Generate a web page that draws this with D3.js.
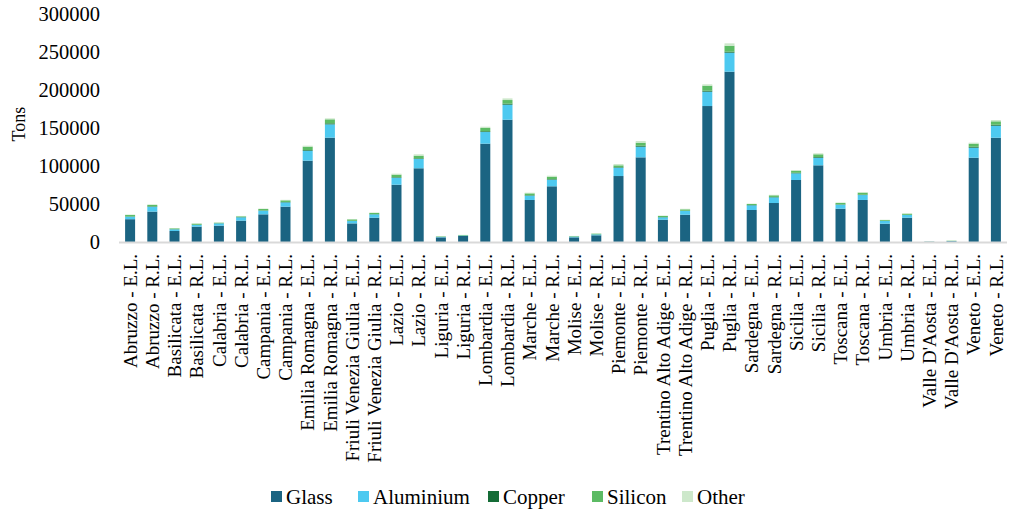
<!DOCTYPE html>
<html>
<head>
<meta charset="utf-8">
<script src="https://cdn.jsdelivr.net/npm/d3@7"></script>
<style>
  html, body { margin: 0; padding: 0; background: #fff; }
  svg { display: block; }
  text { font-family: "Liberation Serif", "Times New Roman", serif; fill: #000; }
</style>
</head>
<body>
<svg id="chart" width="1013" height="513"></svg>
<script>
// Regions and plant type (E.L. / R.L.)
const categories = [
  "Abruzzo - E.L.", "Abruzzo - R.L.", "Basilicata - E.L.", "Basilicata - R.L.",
  "Calabria - E.L.", "Calabria - R.L.", "Campania - E.L.", "Campania - R.L.",
  "Emilia Romagna - E.L.", "Emilia Romagna - R.L.", "Friuli Venezia Giulia - E.L.", "Friuli Venezia Giulia - R.L.",
  "Lazio - E.L.", "Lazio - R.L.", "Liguria - E.L.", "Liguria - R.L.",
  "Lombardia - E.L.", "Lombardia - R.L.", "Marche - E.L.", "Marche - R.L.",
  "Molise - E.L.", "Molise - R.L.", "Piemonte - E.L.", "Piemonte - R.L.",
  "Trentino Alto Adige - E.L.", "Trentino Alto Adige - R.L.", "Puglia - E.L.", "Puglia - R.L.",
  "Sardegna - E.L.", "Sardegna - R.L.", "Sicilia - E.L.", "Sicilia - R.L.",
  "Toscana - E.L.", "Toscana - R.L.", "Umbria - E.L.", "Umbria - R.L.",
  "Valle D'Aosta - E.L.", "Valle D'Aosta - R.L.", "Veneto - E.L.", "Veneto - R.L."
];

// Material quantities (tons)
const glass = [
  30000, 40000, 14500, 20200, 21500, 28100, 36400, 46500,
  107000, 137300, 24500, 32000, 75400, 97000, 6100, 7900,
  129400, 160900, 55300, 73300, 6100, 8800, 86800, 111400,
  29400, 35900, 178900, 224100, 42100, 51300, 81600, 100900,
  43800, 55300, 24100, 32000, 400, 1000, 110900, 137200
];
const aluminium = [
  3300, 6400, 2200, 2200, 3000, 4400, 4800, 5700,
  13100, 17500, 3100, 4400, 9200, 12200, 600, 600,
  15300, 19800, 5700, 8700, 1000, 1200, 11000, 14000,
  3100, 4900, 18900, 25000, 6200, 7500, 8800, 10000,
  5300, 6500, 3500, 3500, 100, 300, 13200, 15800
];
const copper = [
  400, 600, 200, 300, 200, 300, 400, 500,
  900, 1300, 300, 300, 700, 800, 100, 100,
  1000, 1300, 600, 700, 100, 100, 700, 1300,
  300, 400, 1300, 1300, 400, 500, 700, 900,
  400, 500, 300, 300, 0, 50, 1200, 1300
];
const silicon = [
  1800, 1700, 1100, 1400, 700, 1000, 1800, 2100,
  4400, 5300, 1900, 1500, 3300, 3600, 600, 600,
  4300, 4800, 2400, 3200, 600, 900, 2400, 4000,
  1400, 1800, 6600, 7900, 1300, 2100, 2700, 3600,
  1800, 2600, 1000, 1400, 100, 300, 4100, 4500
];
const other = [
  600, 800, 400, 500, 500, 500, 600, 700,
  1300, 1300, 500, 600, 1300, 1800, 200, 200,
  1700, 2200, 900, 1300, 200, 300, 1700, 2200,
  600, 700, 1800, 3100, 500, 700, 900, 1300,
  700, 800, 400, 500, 200, 300, 1300, 1700
];

const seriesNames = ["Glass", "Aluminium", "Copper", "Silicon", "Other"];
const seriesColors = ["#1b6482", "#4dc9f0", "#146c36", "#5cbb64", "#cde8cb"];
const yTicks = [0, 50000, 100000, 150000, 200000, 250000, 300000];

const seriesValues = [glass, aluminium, copper, silicon, other];
const rows = categories.map((c, i) => {
  const r = { category: c };
  seriesNames.forEach((s, k) => { r[s] = seriesValues[k][i]; });
  return r;
});

const svg = d3.select("#chart");

const x = d3.scaleBand()
  .domain(categories)
  .range([119, 1007])
  .paddingInner(0.55)
  .paddingOuter(0.275);

const y = d3.scaleLinear()
  .domain([0, 300000])
  .range([242, 14]);

const color = d3.scaleOrdinal().domain(seriesNames).range(seriesColors);

const stacked = d3.stack().keys(seriesNames)(rows);

// Stacked bars
svg.append("g")
  .selectAll("g")
  .data(stacked)
  .join("g")
    .attr("fill", d => color(d.key))
  .selectAll("rect")
  .data(d => d)
  .join("rect")
    .attr("x", d => x(d.data.category))
    .attr("y", d => y(d[1]))
    .attr("width", x.bandwidth())
    .attr("height", d => Math.max(0, y(d[0]) - y(d[1])));

// Category axis baseline
svg.append("line")
  .attr("x1", 119).attr("x2", 1007)
  .attr("y1", y(0) + 0.5).attr("y2", y(0) + 0.5)
  .attr("stroke", "#d9d9d9")
  .attr("stroke-width", 2);

// Category labels, rotated
const xAxis = svg.append("g")
  .attr("transform", `translate(0,${y(0)})`)
  .call(d3.axisBottom(x).tickSize(0).tickPadding(0));
xAxis.select(".domain").remove();
xAxis.selectAll("text")
  .attr("transform", "rotate(-90)")
  .attr("x", -12)
  .attr("y", 0)
  .attr("dy", "0.35em")
  .style("text-anchor", "end")
  .style("font-family", "'Liberation Serif', 'Times New Roman', serif")
  .style("font-size", "19px")
  .style("fill", "#000");

// Value axis labels
const yAxis = svg.append("g")
  .attr("transform", "translate(100,0)")
  .call(d3.axisLeft(y).tickValues(yTicks).tickFormat(d3.format("d")).tickSize(0).tickPadding(0));
yAxis.select(".domain").remove();
yAxis.selectAll("text")
  .style("font-family", "'Liberation Serif', 'Times New Roman', serif")
  .style("font-size", "20.5px")
  .style("fill", "#000");

// Axis title
svg.append("text")
  .attr("transform", "translate(25,124) rotate(-90)")
  .attr("text-anchor", "middle")
  .style("font-size", "18px")
  .text("Tons");

// Legend
const legendX = [271, 358, 488, 592, 682];
const legend = svg.append("g");
seriesNames.forEach((s, i) => {
  const g = legend.append("g").attr("transform", `translate(${legendX[i]},497)`);
  g.append("rect")
    .attr("x", 0).attr("y", -6)
    .attr("width", 11).attr("height", 11)
    .attr("fill", color(s));
  g.append("text")
    .attr("x", 15).attr("y", 0)
    .attr("dy", "0.35em")
    .style("font-size", "21px")
    .text(s);
});
</script>
</body>
</html>
